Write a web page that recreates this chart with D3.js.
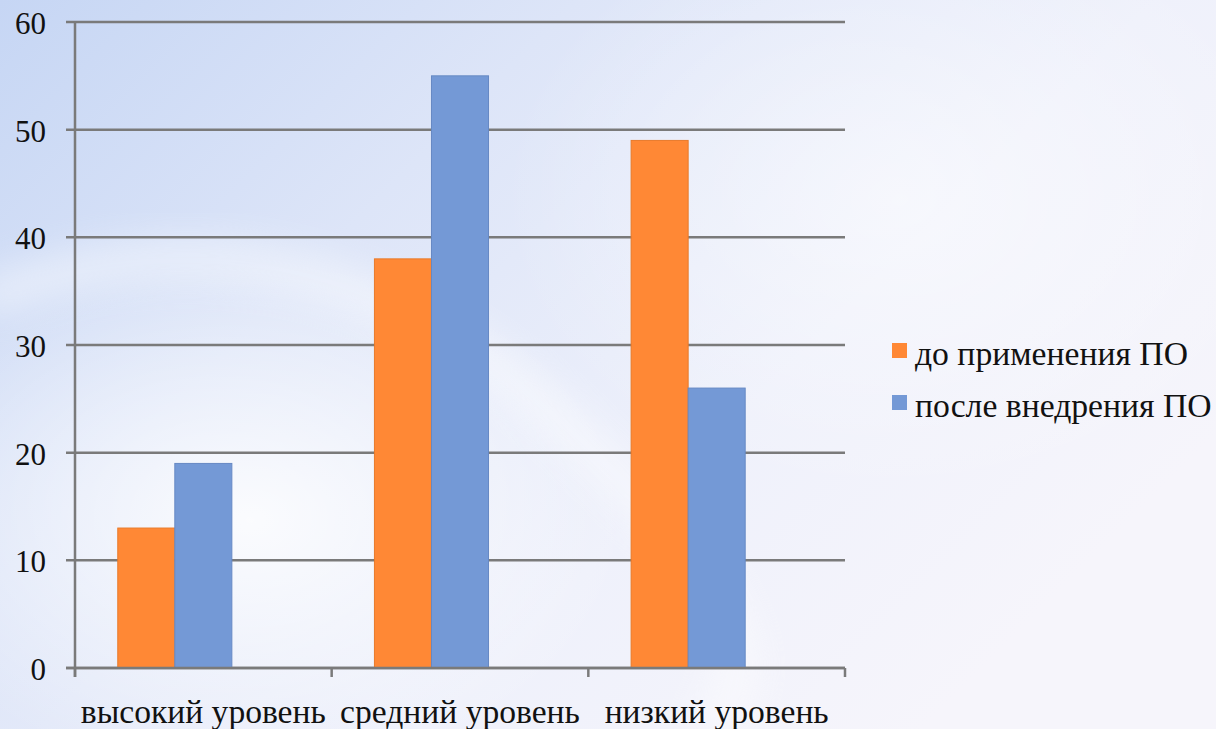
<!DOCTYPE html>
<html><head><meta charset="utf-8">
<script src="https://cdn.jsdelivr.net/npm/d3@7"></script>
<style>html,body{margin:0;padding:0;overflow:hidden;background:#eef1fb}
#wrap{position:relative;width:1216px;height:729px;overflow:hidden}
#c{position:absolute;left:0;top:0}
#labels{position:absolute;left:0;top:0;width:1216px;height:729px}
.t{position:absolute;white-space:nowrap;line-height:1;color:#111;font-family:'Liberation Serif','Tinos','Times New Roman',serif !important}
</style>
</head><body>
<div id="wrap">
<svg id="c" width="1216" height="729"></svg>
<div id="labels"></div>
</div>
<script>
const categories = ["высокий уровень", "средний уровень", "низкий уровень"];
const seriesNames = ["до применения ПО", "после внедрения ПО"];
const before = [13, 38, 49];
const after = [19, 55, 26];
const yTicks = [0, 10, 20, 30, 40, 50, 60];
const colors = ["#FF8835", "#7499D6"];

const svg = d3.select("#c");
const W = 1216, H = 729;
const defs = svg.append("defs");
const lg = defs.append("linearGradient").attr("id","bg").attr("x1","0").attr("y1","0").attr("x2","1").attr("y2","0.6");
lg.append("stop").attr("offset","0").attr("stop-color","#c6d6f4");
lg.append("stop").attr("offset","0.35").attr("stop-color","#dde5f8");
lg.append("stop").attr("offset","0.7").attr("stop-color","#eff1fb");
lg.append("stop").attr("offset","1").attr("stop-color","#f6f5fb");
svg.append("rect").attr("width",W).attr("height",H).attr("fill","url(#bg)");
const rg = defs.append("radialGradient").attr("id","glow");
rg.append("stop").attr("offset","0").attr("stop-color","#ffffff").attr("stop-opacity",0.85);
rg.append("stop").attr("offset","1").attr("stop-color","#ffffff").attr("stop-opacity",0);
svg.append("ellipse").attr("cx",250).attr("cy",520).attr("rx",380).attr("ry",260).attr("fill","url(#glow)");
svg.append("ellipse").attr("cx",900).attr("cy",200).attr("rx",400).attr("ry",300).attr("fill","url(#glow)").attr("opacity",0.6);
defs.append("filter").attr("id","bl").append("feGaussianBlur").attr("stdDeviation",18);
svg.append("path").attr("d","M -20 300 Q 300 180 560 420 T 700 729").attr("fill","none")
  .attr("stroke","#ffffff").attr("stroke-width",40).attr("opacity",0.45).attr("filter","url(#bl)");

const pL = 75, pR = 845, pT = 22, pB = 668;
const y = d3.scaleLinear().domain([0, 60]).range([pB, pT]);
const x0 = d3.scaleBand().domain(categories).range([pL, pR]).paddingInner(0).paddingOuter(0);
// Excel-style slot layout: 3 series slots (third unused) with gap
const slots = [...seriesNames, ""];
const x1 = d3.scaleBand().domain(slots).range([0, x0.bandwidth()]).paddingInner(0).paddingOuter(0.75);

const grid = "#7a7a7a";

svg.append("g").selectAll("line").data(yTicks).join("line")
  .attr("x1", pL - 9).attr("x2", pR).attr("y1", d => y(d)).attr("y2", d => y(d))
  .attr("stroke", grid).attr("stroke-width", 2.5);

const data = categories.map((c, i) => ({c, vals: [before[i], after[i]]}));
const g = svg.append("g").selectAll("g").data(data).join("g")
  .attr("transform", d => `translate(${x0(d.c)},0)`);
g.selectAll("rect").data(d => d.vals.map((v, j) => ({s: seriesNames[j], v, j}))).join("rect")
  .attr("x", d => x1(d.s)).attr("width", x1.bandwidth())
  .attr("y", d => y(d.v)).attr("height", d => y(0) - y(d.v))
  .attr("fill", d => colors[d.j]).attr("stroke", d => d.j === 0 ? "#e87a2a" : "#6689c4").attr("stroke-width", 1);

svg.append("line").attr("x1", pL).attr("x2", pL).attr("y1", pT).attr("y2", pB + 9)
  .attr("stroke", grid).attr("stroke-width", 2.5);
svg.append("line").attr("x1", pL - 9).attr("x2", pR).attr("y1", pB).attr("y2", pB)
  .attr("stroke", grid).attr("stroke-width", 2.5);
const xt = categories.map(c => x0(c)).concat([pR]);
svg.append("g").selectAll("line").data(xt).join("line")
  .attr("x1", d => d).attr("x2", d => d).attr("y1", pB).attr("y2", pB + 9)
  .attr("stroke", grid).attr("stroke-width", 2.5);

svg.append("g").selectAll("rect").data(seriesNames).join("rect")
  .attr("x", 892).attr("y", (d, i) => 343 + i * 52).attr("width", 15).attr("height", 15)
  .attr("fill", (d, i) => colors[i]);

const FONT = "'Liberation Serif', 'Tinos', 'Times New Roman', serif";
const L = d3.select("#labels");
const base = 0.8375;

function fit(sel, fs, target) {
  const node = sel.node();
  const w = node ? node.getBoundingClientRect().width : 0;
  let f = fs;
  if (w > 0) f = fs * Math.max(0.85, Math.min(1.15, target / w));
  return f;
}

const yt = L.selectAll("div.yt").data(yTicks).join("div").attr("class", "t yt")
  .style("font-family", FONT, "important").style("font-size", "31px")
  .style("right", (W - 46) + "px").text(d => d);
yt.style("top", d => (y(d) + 12 - base * 31) + "px");

const xc = L.selectAll("div.xc").data(categories).join("div").attr("class", "t xc")
  .style("font-family", FONT, "important").style("font-size", "34px").text(d => d);
const fx = fit(xc, 34, 245);
xc.style("font-size", fx + "px")
  .style("left", d => (x0(d) + x0.bandwidth() / 2) + "px")
  .style("top", (723 - base * fx) + "px")
  .style("transform", "translateX(-50%)");

const lt = L.selectAll("div.lg").data(seriesNames).join("div").attr("class", "t lg")
  .style("font-family", FONT, "important").style("font-size", "32px").text(d => d);
const fl = fit(lt, 32, 273);
lt.style("font-size", fl + "px").style("left", "915px")
  .style("top", (d, i) => (365 + i * 52 - base * fl) + "px");
</script>
</body></html>
